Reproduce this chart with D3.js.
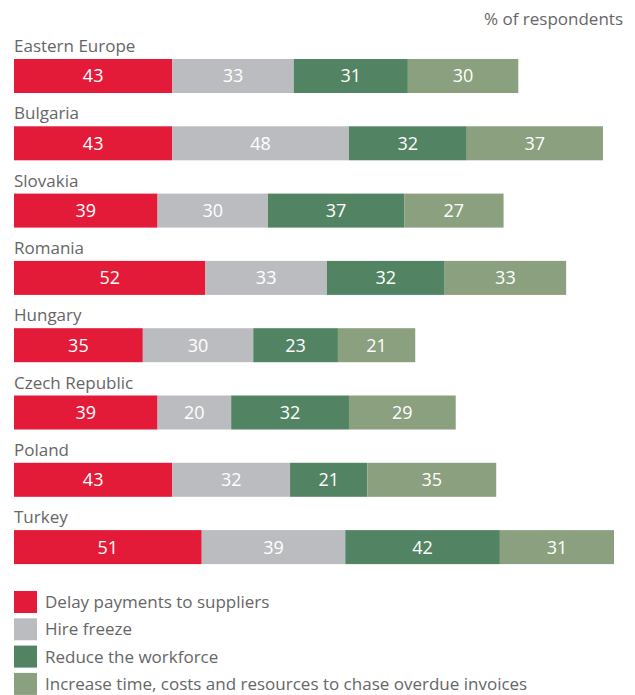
<!DOCTYPE html>
<html>
<head>
<meta charset="utf-8">
<script src="https://cdn.jsdelivr.net/npm/d3@7"></script>
<style>
  html, body { margin: 0; padding: 0; background: #fff; }
  svg { display: block; font-family: "Open Sans", sans-serif; }
</style>
</head>
<body>
<div id="chart"></div>
<script>
/* stacked horizontal bars — measures taken in response to late payments */

const COUNTRIES = ["Eastern Europe","Bulgaria","Slovakia","Romania","Hungary","Czech Republic","Poland","Turkey"];
const SERIES    = ["Delay payments to suppliers","Hire freeze","Reduce the workforce",
                   "Increase time, costs and resources to chase overdue invoices"];
const DELAY     = [43, 43, 39, 52, 35, 39, 43, 51];
const HIRE      = [33, 48, 30, 33, 30, 20, 32, 39];
const REDUCE    = [31, 32, 37, 32, 23, 32, 21, 42];
const CHASE     = [30, 37, 27, 33, 21, 29, 35, 31];
const UNIT_NOTE = "% of respondents";

const COLORS = d3.scaleOrdinal(SERIES, ["#e31b39","#bbbcc0","#528464","#8ba07e"]);

const W = 635, H = 695, X0 = 14;

const rows = COUNTRIES.map((c,i)=>({country:c,
  [SERIES[0]]:DELAY[i],[SERIES[1]]:HIRE[i],[SERIES[2]]:REDUCE[i],[SERIES[3]]:CHASE[i]}));

const stacked = d3.stack().keys(SERIES)(rows);

const x = d3.scaleLinear().domain([0,163]).range([X0, X0+600]);
const y = d3.scaleBand().domain(COUNTRIES).range([59, 59+67.3*8]).paddingInner(0).paddingOuter(0);
const BAR_H = 34;

const svg = d3.select("#chart").append("svg").attr("width",W).attr("height",H);

/* unit note */
svg.append("text").attr("x",623).attr("y",25).attr("text-anchor","end")
   .attr("fill","#666").style("font-size","17px").text(UNIT_NOTE);

/* country labels */
svg.selectAll("text.cty").data(COUNTRIES).enter().append("text").attr("class","cty")
   .attr("x",X0).attr("y",d=>y(d)-7).attr("fill","#666").style("font-size","17px")
   .text(d=>d);

/* segments */
const layer = svg.selectAll("g.layer").data(stacked).enter().append("g")
   .attr("class","layer").attr("fill",d=>COLORS(d.key));

layer.selectAll("rect").data(d=>d).enter().append("rect")
   .attr("x",d=>x(d[0])).attr("y",d=>y(d.data.country))
   .attr("width",d=>x(d[1])-x(d[0])).attr("height",BAR_H);

layer.selectAll("text").data(d=>d).enter().append("text")
   .attr("x",d=>(x(d[0])+x(d[1]))/2).attr("y",d=>y(d.data.country)+BAR_H/2)
   .attr("dy","0.36em").attr("text-anchor","middle").attr("fill","#fff")
   .style("font-size","18px").text(d=>d[1]-d[0]);

/* legend */
const leg = svg.selectAll("g.leg").data(SERIES).enter().append("g").attr("class","leg")
   .attr("transform",(d,i)=>`translate(${X0},${591+i*27.3})`);
leg.append("rect").attr("width",23).attr("height",22).attr("fill",d=>COLORS(d));
leg.append("text").attr("x",31).attr("y",11).attr("dy","0.36em")
   .attr("fill","#666").style("font-size","17px").text(d=>d);
</script>
</body>
</html>
